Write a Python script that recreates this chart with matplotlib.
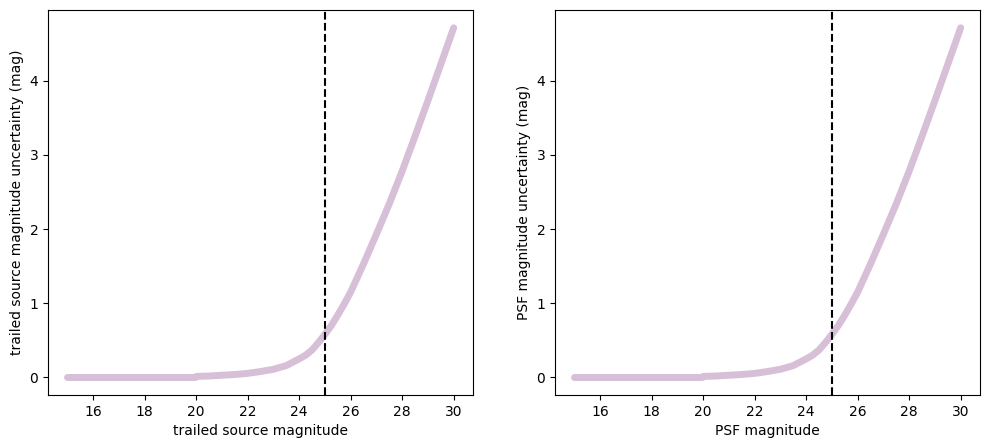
import numpy as np
import matplotlib
matplotlib.use("Agg")
import matplotlib.pyplot as plt

# magnitudes and uncertainties
mag = [15.0, 16.0, 17.0, 18.0, 19.0, 19.95,
       20.0, 20.5, 21.0, 21.5, 22.0, 22.5, 23.0, 23.5, 24.0, 24.25, 24.5, 24.75,
       25.0, 25.25, 25.5, 25.75, 26.0, 26.25, 26.5, 26.75, 27.0, 27.5,
       28.0, 28.5, 29.0, 29.5, 30.0]
mag_err = [0.003, 0.003, 0.003, 0.003, 0.003, 0.003,
           0.014, 0.02, 0.03, 0.04, 0.055, 0.08, 0.11, 0.16, 0.25, 0.30, 0.37, 0.47,
           0.58, 0.70, 0.84, 0.99, 1.15, 1.34, 1.53, 1.73, 1.93, 2.34,
           2.78, 3.25, 3.73, 4.22, 4.71]
mag_cut = 25.0

panels = [
    ("trailed source magnitude", "trailed source magnitude uncertainty (mag)"),
    ("PSF magnitude", "PSF magnitude uncertainty (mag)"),
]

fig = plt.figure(figsize=(9.88, 4.48), dpi=100)
lefts = [48 / 988, 555 / 988]

for left, (xlab, ylab) in zip(lefts, panels):
    ax = fig.add_axes([left, 53 / 448, 425 / 988, 385 / 448])
    m = np.array(mag)
    e = np.array(mag_err)
    lo = m < 20
    # the curve has a small step at mag 20, so draw the two pieces apart
    ax.plot(m[lo], e[lo], color="thistle", lw=5, solid_capstyle="round",
            solid_joinstyle="round")
    ax.plot(m[~lo], e[~lo], color="thistle", lw=5, solid_capstyle="round",
            solid_joinstyle="round")
    ax.axvline(mag_cut, color="black", linestyle="--", lw=1.5)
    ax.set_xlim(14.25, 30.75)
    ax.set_ylim(-0.236, 4.95)
    ax.set_xticks([16, 18, 20, 22, 24, 26, 28, 30])
    ax.set_yticks([0, 1, 2, 3, 4])
    ax.set_xlabel(xlab)
    ax.set_ylabel(ylab)

fig.savefig("out.png", dpi=100)
